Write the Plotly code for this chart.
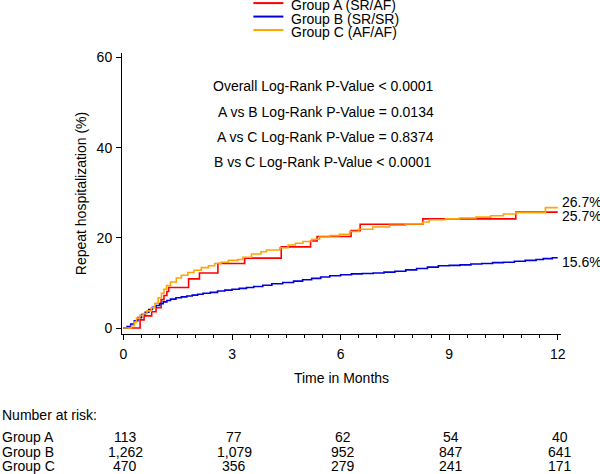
import plotly.graph_objects as go

# ---------------- data ----------------
groups = ["Group A (SR/AF)", "Group B (SR/SR)", "Group C (AF/AF)"]
colors = ["#ff0000", "#0000dd", "#ffa500"]

t_A = [0, 0.46, 0.57, 0.78, 0.90, 1.04, 1.12, 1.20, 1.25, 1.80, 2.10, 2.61, 3.35,
       4.36, 5.17, 5.35, 6.29, 6.54, 8.27, 10.84, 12.0]
v_A = [0, 1.8, 2.7, 3.6, 4.5, 6.3, 7.2, 8.1, 9.0, 10.9, 12.2, 14.3, 15.5,
       18.0, 19.3, 20.3, 21.6, 23.0, 24.2, 25.7, 25.7]

t_B = [0, 0.1, 0.2, 0.3, 0.4, 0.5, 0.6, 0.7, 0.8, 0.9, 1.0, 1.1, 1.2, 1.3, 1.45, 1.6,
       1.75, 1.9, 2.05, 2.2, 2.4, 2.6, 2.8, 3.0, 3.2, 3.4, 3.6, 3.85, 4.1, 4.4, 4.7,
       4.95, 5.2, 5.45, 5.7, 6.0, 6.3, 6.6, 6.9, 7.2, 7.5, 7.8, 8.1, 8.4, 8.7, 9.0,
       9.3, 9.6, 9.9, 10.2, 10.5, 10.8, 11.1, 11.4, 11.6, 11.85, 12.0]
v_B = [0, 0.3, 0.9, 1.6, 2.3, 3.0, 3.5, 4.1, 4.6, 5.0, 5.4, 5.8, 6.1, 6.4, 6.7, 6.9,
       7.1, 7.3, 7.5, 7.7, 7.9, 8.2, 8.4, 8.6, 8.8, 9.0, 9.2, 9.5, 9.8, 10.1, 10.4,
       10.7, 11.0, 11.3, 11.6, 11.8, 12.0, 12.1, 12.2, 12.4, 12.6, 12.9, 13.2, 13.5,
       13.8, 13.9, 14.0, 14.2, 14.3, 14.5, 14.6, 14.8, 15.0, 15.2, 15.4, 15.6, 15.6]

t_C = [0, 0.22, 0.30, 0.36, 0.45, 0.55, 0.65, 0.77, 0.87, 0.96, 1.05, 1.12, 1.19,
       1.30, 1.46, 1.60, 1.78, 1.95, 2.15, 2.35, 2.52, 2.70, 2.90, 3.16, 3.30, 3.54,
       3.80, 3.95, 4.32, 4.55, 4.75, 4.96, 5.20, 5.42, 5.70, 5.97, 6.25, 6.50, 6.89,
       7.35, 7.80, 8.26, 8.45, 8.90, 9.28, 9.74, 10.15, 10.50, 10.84, 11.66, 12.0]
v_C = [0, 0.5, 1.3, 2.2, 2.8, 3.2, 3.8, 4.5, 5.5, 6.7, 7.7, 8.6, 9.4,
       10.2, 11.1, 11.7, 12.3, 12.8, 13.4, 13.8, 14.3, 14.6, 15.0, 15.2, 15.7, 16.4,
       16.9, 17.3, 17.8, 18.4, 18.8, 19.2, 19.7, 20.2, 20.5, 20.8, 21.4, 21.9, 22.4,
       22.8, 23.1, 23.5, 24.0, 24.2, 24.4, 24.6, 24.9, 25.3, 25.6, 26.7, 26.7]

end_labels = ["25.7%", "15.6%", "26.7%"]
end_values = [25.7, 15.6, 26.7]
end_shift = [-3.5, -4.0, 5.5]

pvalue_texts = [
    "Overall Log-Rank P-Value < 0.0001",
    "A vs B Log-Rank P-Value = 0.0134",
    "A vs C Log-Rank P-Value = 0.8374",
    "B vs C Log-Rank P-Value < 0.0001",
]

risk_times = [0, 3, 6, 9, 12]
risk_labels = ["Group A", "Group B", "Group C"]
risk_A = ["113", "77", "62", "54", "40"]
risk_B = ["1,262", "1,079", "952", "847", "641"]
risk_C = ["470", "356", "279", "241", "171"]

x_ticks = [0, 3, 6, 9, 12]
y_ticks = [0, 20, 40, 60]

# ---------------- layout geometry (pixels) ----------------
W, H = 600, 474
L, R_EDGE = 122, 560.7
TOP, BOT = 53, 334.5
PW, PH = R_EDGE - L, BOT - TOP


def px(x):
    return (x - L) / PW


def py(y):
    return (BOT - y) / PH


FONT = "Liberation Sans, Arial, sans-serif"

fig = go.Figure()
for t, v, c, name in zip([t_A, t_B, t_C], [v_A, v_B, v_C], colors, groups):
    fig.add_trace(go.Scatter(x=t, y=v, mode="lines", line=dict(color=c, width=1.6, shape="hv"),
                             name=name, showlegend=False, hoverinfo="skip"))

annotations = []
shapes = []

# manual legend (compact, like the reference)
leg_line_y = [3, 16.5, 30]
leg_text_y = [5, 18.5, 32]
for i, (name, c) in enumerate(zip(groups, colors)):
    shapes.append(dict(type="line", xref="paper", yref="paper",
                       x0=px(253.3), x1=px(283.3), y0=py(leg_line_y[i]), y1=py(leg_line_y[i]),
                       line=dict(color=c, width=2)))
    annotations.append(dict(text=name, xref="paper", yref="paper", x=px(289), y=py(leg_text_y[i]),
                            xanchor="left", yanchor="middle", showarrow=False,
                            font=dict(size=14, color="black", family=FONT)))

# p-value texts
pv_y = [86, 111.7, 136.7, 162.3]
pv_x = [323.7, 325.8, 325.3, 322.7]
for txt, yy, xx in zip(pvalue_texts, pv_y, pv_x):
    annotations.append(dict(text=txt, xref="paper", yref="paper", x=px(xx), y=py(yy),
                            xanchor="center", yanchor="middle", showarrow=False,
                            font=dict(size=14, color="black", family=FONT)))

# end labels
for lab, val, sh in zip(end_labels, end_values, end_shift):
    annotations.append(dict(text=lab, xref="x", yref="y", x=12, y=val, xanchor="left",
                            yanchor="middle", xshift=2, yshift=sh, showarrow=False,
                            font=dict(size=14, color="black", family=FONT)))

# number at risk table
annotations.append(dict(text="Number at risk:", xref="paper", yref="paper", x=px(0), y=py(416),
                        xanchor="left", yanchor="middle", showarrow=False,
                        font=dict(size=14, color="black", family=FONT)))
row_y = [437.7, 452.3, 466.5]
for lab, row, yy in zip(risk_labels, [risk_A, risk_B, risk_C], row_y):
    annotations.append(dict(text=lab, xref="paper", yref="paper", x=px(0), y=py(yy),
                            xanchor="left", yanchor="middle", showarrow=False,
                            font=dict(size=14, color="black", family=FONT)))
    for tt, n in zip(risk_times, row):
        annotations.append(dict(text=n, xref="x", yref="paper", x=tt, y=py(yy), xanchor="center",
                                yanchor="middle", xshift=2, showarrow=False,
                                font=dict(size=14, color="black", family=FONT)))

fig.update_layout(
    width=W, height=H,
    margin=dict(l=L, r=W - R_EDGE, t=TOP, b=H - BOT, pad=0),
    paper_bgcolor="white", plot_bgcolor="white",
    font=dict(family=FONT, size=14, color="black"),
    showlegend=False,
    annotations=annotations,
    shapes=shapes,
    xaxis=dict(range=[-0.04, 12.09], tickvals=x_ticks, ticktext=[str(v) for v in x_ticks],
               ticks="outside", ticklen=5, tickwidth=1, tickcolor="black",
               showline=True, linecolor="black", linewidth=1, mirror=False,
               showgrid=False, zeroline=False, ticklabelstandoff=2,
               minor=dict(dtick=0.5, tick0=0, ticks="outside", ticklen=3, tickcolor="black", showgrid=False),
               title=dict(text="Time in Months", font=dict(size=14), standoff=12)),
    yaxis=dict(range=[-1.33, 61.0], tickvals=y_ticks, ticktext=[str(v) for v in y_ticks],
               ticks="outside", ticklen=5, tickwidth=1, tickcolor="black",
               showline=True, linecolor="black", linewidth=1, mirror=False,
               showgrid=False, zeroline=False, ticklabelstandoff=1,
               title=dict(text="Repeat hospitalization (%)", font=dict(size=14), standoff=6)),
)

fig.write_html("out.html", config={"displayModeBar": False, "staticPlot": True},
               post_script="document.body.style.margin='0';document.body.style.overflow='hidden';")
